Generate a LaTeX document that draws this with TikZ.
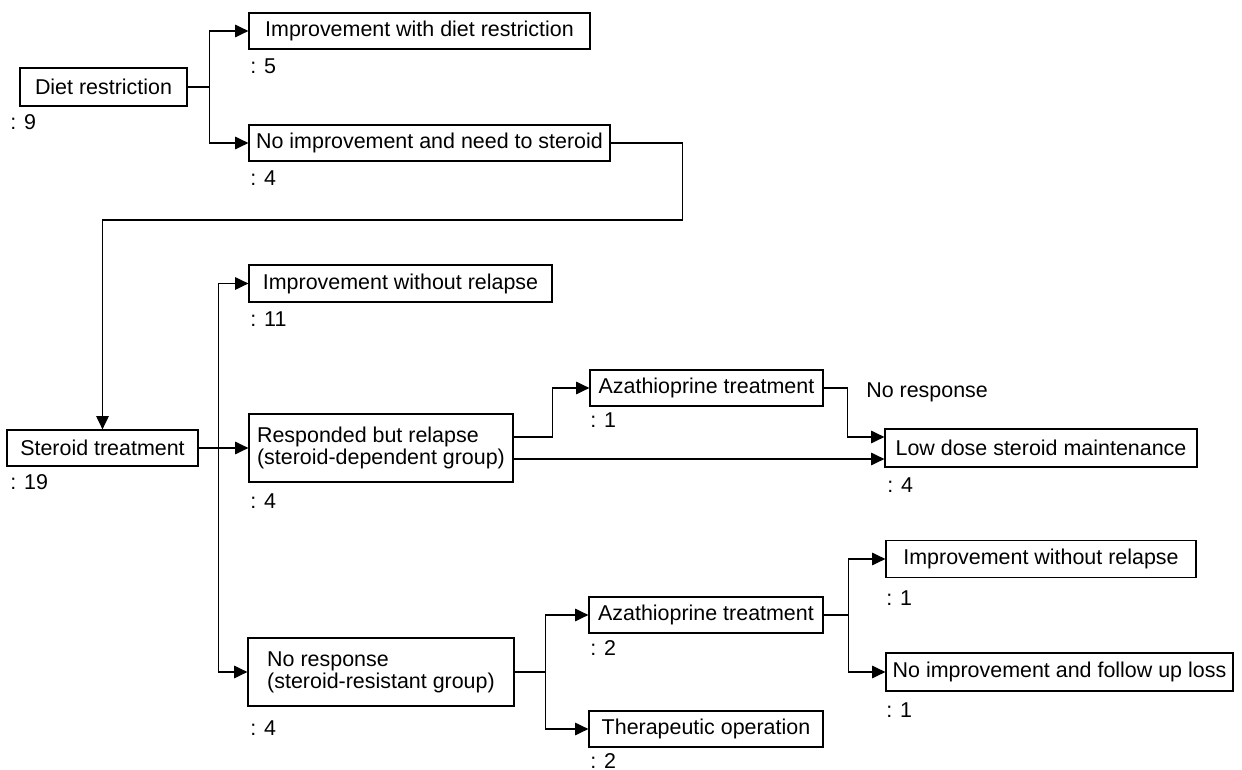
\documentclass[tikz,border=0pt]{standalone}
\usepackage{fontspec}
\setmainfont{Liberation Sans}
\usetikzlibrary{arrows.meta,calc}
\begin{document}
\begin{tikzpicture}[x=0.02cm,y=-0.02cm, font=\fontsize{12.2}{12.6}\selectfont,
 box/.style={draw, line width=0.7pt, inner sep=2pt, align=left},
 lab/.style={inner sep=0pt, anchor=base west},
 arr/.style={line width=0.9pt, -{Triangle[length=7.5pt,width=7pt]}},
 ln/.style={line width=0.7pt}]
\useasboundingbox (0,0) rectangle (1242,770);
% boxes
\node[box, minimum width=3.34cm, minimum height=0.76cm] (diet) at (103.5,87) {Diet restriction};
\node[box, minimum width=6.82cm, minimum height=0.72cm] (impdiet) at (419.5,31) {Improvement with diet restriction};
\node[box, minimum width=7.22cm, minimum height=0.72cm] (noimp) at (429.5,143) {No improvement and need to steroid};
\node[box, minimum width=3.82cm, minimum height=0.72cm] (steroid) at (102.5,448) {Steroid treatment};
\node[box, minimum width=6.06cm, minimum height=0.74cm] (impwo) at (400.5,283.5) {Improvement without relapse};
\node[box, minimum width=5.28cm, minimum height=1.36cm] (resp) at (381,448) {Responded but relapse\\(steroid-dependent group)};
\node[box, minimum width=4.66cm, minimum height=0.72cm] (aza1) at (706.5,388) {Azathioprine treatment};
\node[box, minimum width=6.24cm, minimum height=0.76cm] (low) at (1041,448) {Low dose steroid maintenance};
\node[box, minimum width=5.32cm, minimum height=1.36cm] (noresp) at (381,672) {No response\\(steroid-resistant group)};
\node[box, minimum width=4.68cm, minimum height=0.72cm] (aza2) at (706,615) {Azathioprine treatment};
\node[box, minimum width=4.68cm, minimum height=0.72cm] (therap) at (706,729) {Therapeutic operation};
\node[box, minimum width=6.2cm, minimum height=0.74cm] (imp2) at (1041,559) {Improvement without relapse};
\node[box, minimum width=6.94cm, minimum height=0.76cm] (noimp2) at (1059.5,672) {No improvement and follow up loss};
% count labels
\node[lab] (n1) at (10,130) {: 9};
\node[lab] (n2) at (250,74) {: 5};
\node[lab] (n3) at (250,186) {: 4};
\node[lab] (n4) at (10,490) {: 19};
\node[lab] (n5) at (250,327) {: 11};
\node[lab] (n6) at (250,508) {: 4};
\node[lab] (n7) at (590,428) {: 1};
\node[lab] (n8) at (887,493) {: 4};
\node[lab] (n9) at (250,735) {: 4};
\node[lab] (n10) at (590,655) {: 2};
\node[lab] (n11) at (590,768) {: 2};
\node[lab] (n12) at (886,605) {: 1};
\node[lab] (n13) at (886,717) {: 1};
\node[anchor=west, inner sep=0pt] (nr) at (866,392) {No response};
% connectors
\draw[ln] (diet.east) -- ++(22,0) coordinate (j1);
\draw[arr] (j1) |- (impdiet.west);
\draw[arr] (j1) |- (noimp.west);
\draw[arr] (noimp.east) -- ++(72,0) -- ++(0,77) -| (steroid.north);
\draw[arr] (steroid.east) -- (resp.west);
\coordinate (j2) at ($(steroid.east)+(20,0)$);
\draw[arr] (j2) |- (impwo.west);
\draw[arr] (j2) |- (noresp.west);
\coordinate (r1) at ($(resp.east)+(0,-11)$);
\coordinate (r2) at ($(resp.east)+(0,11)$);
\coordinate (l1) at ($(low.west)+(0,-11)$);
\coordinate (l2) at ($(low.west)+(0,11)$);
\draw[arr] (r1) -- ++(39,0) |- (aza1.west);
\draw[arr] (r2) -- (l2);
\draw[arr] (aza1.east) -- ++(24,0) |- (l1);
\draw[ln] (noresp.east) -- ++(31,0) coordinate (j3);
\draw[arr] (j3) |- (aza2.west);
\draw[arr] (j3) |- (therap.west);
\draw[ln] (aza2.east) -- ++(25,0) coordinate (j4);
\draw[arr] (j4) |- (imp2.west);
\draw[arr] (j4) |- (noimp2.west);
\end{tikzpicture}
\end{document}
